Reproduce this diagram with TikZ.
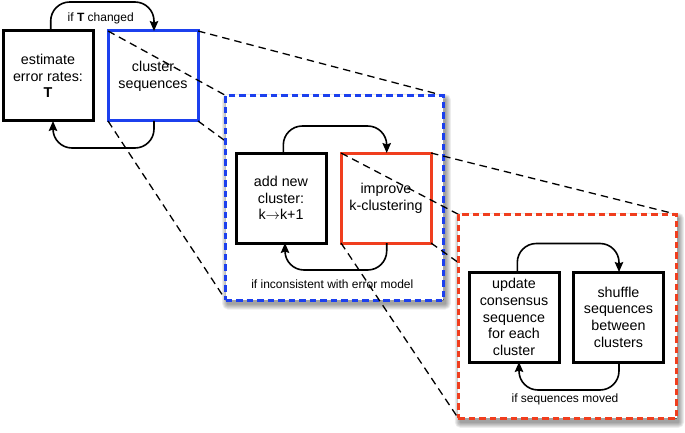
\documentclass[tikz,border=0pt]{standalone}
\usepackage{fontspec}
\setmainfont{Liberation Sans}
\usetikzlibrary{arrows.meta}
\definecolor{zblue}{RGB}{28,64,238}
\definecolor{zred}{RGB}{240,62,30}
\newcommand{\boxfont}{\fontsize{14.3}{16.7}\selectfont}
\newcommand{\lblfont}{\fontsize{12}{14}\selectfont}
\begin{document}
\begin{tikzpicture}[x=1pt,y=-1pt,
  stepbox/.style={draw, line width=3pt, fill=white, minimum width=90pt, minimum height=90pt,
    inner sep=1pt, outer sep=0pt, align=center, font=\boxfont},
  zoomframe/.style={draw, line width=3pt, dash pattern=on 6.5pt off 4pt, fill=white,
    outer sep=0pt, inner sep=0pt},
  zoomline/.style={line width=1.3pt, dash pattern=on 7.5pt off 5pt},
  cyc/.style={line width=1.6pt, rounded corners=19pt, -{Stealth[length=10pt,width=8.5pt,inset=1.5pt]}},
  lbl/.style={font=\lblfont, inner sep=0pt}]
\useasboundingbox (0,0) rectangle (685,433);
\fill[white] (0,0) rectangle (685,433);

% ---- level 1
\node[stepbox] (b1) at (48,76) {estimate\\error rates:\\\textbf{T}};
\node[stepbox, draw=zblue] (b2) at (153,76) {cluster\\sequences};
\draw[cyc] ([xshift=2.7pt]b1.north) -- ++(0,-29) -| ([xshift=1pt]b2.north);
\draw[cyc] ([xshift=1pt]b2.south) -- ++(0,27) -| ([xshift=5pt]b1.south);
\node[lbl] (l1) at (100.7,18.3) {if \textbf{T} changed};

% ---- zoom lines to blue frame
\node[zoomframe, draw=none, fill=none, minimum width=217.6pt, minimum height=204.5pt] (fa) at (334.5,197.75) {};
\draw[zoomline] (b2.north west) -- (fa.north west);
\draw[zoomline] (b2.north east) -- (fa.north east);
\draw[zoomline] (b2.south west) -- (fa.south west);
\draw[zoomline] (b2.south east) -- (fa.south east);

% shadow of blue frame
\foreach \r in {0.5,1.5,...,5.5}
  \fill[black, opacity=0.07, rounded corners=\r pt] ({227.7-\r},{99.5-\r}) rectangle ({445.3+\r},{304+\r});
\node[zoomframe, draw=zblue, minimum width=217.6pt, minimum height=204.5pt] (fA) at (334.5,197.75) {};

% ---- level 2
\node[stepbox] (add) at (281,198) {add new\\cluster:\\k$\rightarrow$k+1};
\node[stepbox, draw=zred] (imp) at (386,198) {improve\\k-clustering};
\draw[cyc] ([xshift=2.3pt]add.north) -- ++(0,-27) -| ([xshift=0.7pt]imp.north);
\draw[cyc] ([xshift=0.7pt]imp.south) -- ++(0,27) -| ([xshift=4pt]add.south);
\node[lbl] (l2) at (332.3,284) {if inconsistent with error model};

% ---- zoom lines to red frame
\node[zoomframe, draw=none, fill=none, minimum width=218.2pt, minimum height=204pt] (fb) at (567.4,316.3) {};
\draw[zoomline] (imp.north west) -- (fb.north west);
\draw[zoomline] (imp.north east) -- (fb.north east);
\draw[zoomline] (imp.south west) -- (fb.south west);
\draw[zoomline] (imp.south east) -- (fb.south east);

% shadow of red frame
\foreach \r in {0.5,1.5,...,5.5}
  \fill[black, opacity=0.07, rounded corners=\r pt] ({460.3-\r},{218.3-\r}) rectangle ({678.5+\r},{422.3+\r});
\node[zoomframe, draw=zred, minimum width=218.2pt, minimum height=204pt] (fB) at (567.4,316.3) {};

% ---- level 3
\node[stepbox] (upd) at (514,317) {update\\consensus\\sequence\\for each\\cluster};
\node[stepbox] (shf) at (618.5,317) {shuffle\\sequences\\between\\clusters};
\draw[cyc] ([xshift=3.3pt]upd.north) -- ++(0,-28.5) -| ([xshift=0.5pt]shf.north);
\draw[cyc] ([xshift=0.5pt]shf.south) -- ++(0,28) -| ([xshift=5pt]upd.south);
\node[lbl] (l3) at (565,399) {if sequences moved};
\end{tikzpicture}
\end{document}
